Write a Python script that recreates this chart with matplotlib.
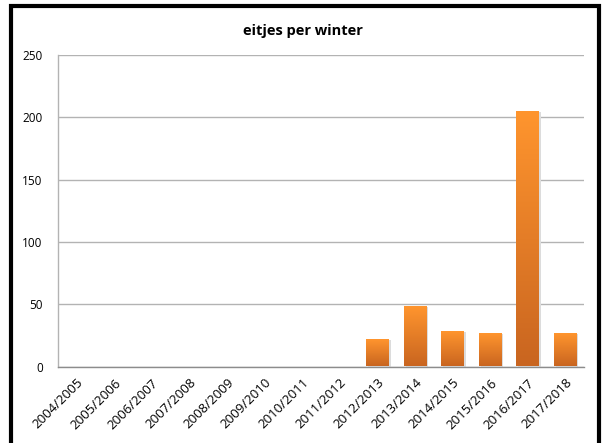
import matplotlib

matplotlib.use("Agg")

import matplotlib.pyplot as plt
from matplotlib.colors import LinearSegmentedColormap
from matplotlib.patches import Rectangle
import numpy as np

winters = [
    "2004/2005", "2005/2006", "2006/2007", "2007/2008", "2008/2009",
    "2009/2010", "2010/2011", "2011/2012", "2012/2013", "2013/2014",
    "2014/2015", "2015/2016", "2016/2017", "2017/2018",
]
eitjes = [0, 0, 0, 0, 0, 0, 0, 0, 21, 48, 28, 26, 204, 26]
y_ticks = [0, 50, 100, 150, 200, 250]

plt.rcParams["font.family"] = ["Open Sans", "DejaVu Sans"]

W, H = 605, 443
fig = plt.figure(figsize=(W / 100, H / 100), dpi=100)
ax = fig.add_axes([58 / W, 1 - 366.5 / H, 526 / W, 311.5 / H])

x = np.arange(len(winters))
bar_w = 0.6
grad = LinearSegmentedColormap.from_list("oranje", ["#c96520", "#ff952e"])
shade = np.linspace(0, 1, 256).reshape(-1, 1)

for xi, val in zip(x, eitjes):
    if val <= 0:
        continue
    # soft shadow to the right
    ax.add_patch(Rectangle((xi - bar_w / 2 + 0.05, 0), bar_w, val,
                           facecolor="#dcdcdc", edgecolor="none", zorder=2))
    ax.imshow(shade, cmap=grad, origin="lower", aspect="auto",
              extent=(xi - bar_w / 2, xi + bar_w / 2, 0, val), zorder=3)

ax.set_xlim(-0.5, len(winters) - 0.5)
ax.set_ylim(0, 250)
ax.set_yticks(y_ticks)
ax.set_xticks(x)
ax.set_xticklabels(winters, rotation=45, ha="right", rotation_mode="anchor",
                   fontsize=9.5)
ax.tick_params(axis="y", labelsize=8.5, length=0, pad=11)
ax.tick_params(axis="x", length=0, pad=7)
ax.yaxis.grid(True, color="#b3b3b3", linewidth=1.0)
ax.set_axisbelow(True)
for side in ["top", "right"]:
    ax.spines[side].set_visible(False)
ax.spines["left"].set_color("#b3b3b3")
ax.spines["bottom"].set_color("#8c8c8c")
ax.spines["left"].set_linewidth(1.0)
ax.spines["bottom"].set_linewidth(1.0)

fig.text(0.5, 1 - 31 / H, "eitjes per winter", ha="center", va="center",
         fontsize=10.5, fontweight="bold")

# thick black frame around the chart (bottom edge runs off the image)
fig.patches.append(Rectangle((11.2 / W, -0.05), 588 / W, 1.05 - 6.2 / H,
                             transform=fig.transFigure, fill=False,
                             edgecolor="black", linewidth=3.0, zorder=10))

fig.savefig("out.png", dpi=100)
